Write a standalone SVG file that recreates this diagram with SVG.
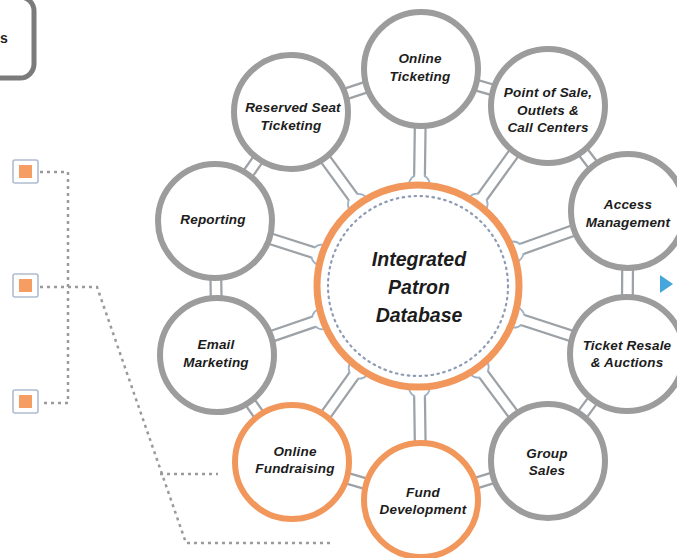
<svg xmlns="http://www.w3.org/2000/svg" xmlns:xlink="http://www.w3.org/1999/xlink" width="677" height="558" viewBox="0 0 677 558">
<style>
.lbl{font-family:"Liberation Sans",Arial,sans-serif;font-weight:bold;font-style:italic;font-size:13.5px;fill:#1c1c1c;text-anchor:middle;letter-spacing:0.2px}
.big{font-family:"Liberation Sans",Arial,sans-serif;font-weight:bold;font-style:italic;font-size:19.5px;fill:#1c1c1c;text-anchor:middle}
.nd{fill:#fff;stroke:#9c9c9c;stroke-width:6}
.nd-o{fill:#fff;stroke:#f2975c;stroke-width:6}
.br-o{fill:none;stroke:#9da2a7;stroke-width:13}
.br-i{fill:none;stroke:#fff;stroke-width:8.5}
.bulb{fill:#fff;stroke:#a0b1c3;stroke-width:1.8}
.dot{fill:none;stroke:#9a9a9a;stroke-width:2.5;stroke-dasharray:3 4}
.sqbox{fill:#fff;stroke:#aebcd0;stroke-width:1.6}
.sq{fill:#f59d62}
</style>
<defs>
<path id="bridges" d="M418 286L421 69M418 286L548 106M418 286L628 211M418 286L627 354M418 286L548 461M418 286L421 500M418 286L292 462M418 286L217 355M418 286L215 221M418 286L291 112M421 69L548 106M548 106L628 211M628 211L627 354M627 354L548 461M548 461L421 500M421 500L292 462M292 462L217 355M217 355L215 221M215 221L291 112M291 112L421 69"/>
</defs>

<!-- top-left cropped box -->
<g id="corner-box">
<rect x="-50" y="-3" width="84" height="81" rx="14" fill="#fff" stroke="#7b7b7b" stroke-width="5"/>
<text x="0" y="43" text-anchor="start" style="font-family:'Liberation Sans',Arial,sans-serif;font-weight:bold;font-size:14px;fill:#222">s</text>
</g>

<!-- left legend squares -->
<g id="sq-1"><rect x="13" y="160" width="25" height="23" rx="2" class="sqbox"/><rect x="19" y="165" width="13" height="13" class="sq"/></g>
<g id="sq-2"><rect x="13" y="274" width="25" height="23" rx="2" class="sqbox"/><rect x="19" y="279" width="13" height="13" class="sq"/></g>
<g id="sq-3"><rect x="13" y="390" width="25" height="23" rx="2" class="sqbox"/><rect x="19" y="395" width="13" height="13" class="sq"/></g>

<g id="dotted-lines">
<path class="dot" d="M40 172H68V403H40"/>
<path class="dot" d="M40 287H97L186 543H330"/>
<path class="dot" d="M160 474H218"/>
</g>

<g id="connectors">
<use href="#bridges" xlink:href="#bridges" class="br-o"/>
<circle class="bulb" cx="419.4" cy="185" r="10.5"/>
<circle class="bulb" cx="477.1" cy="204.1" r="10.5"/>
<circle class="bulb" cx="513.1" cy="252" r="10.5"/>
<circle class="bulb" cx="514" cy="317.2" r="10.5"/>
<circle class="bulb" cx="478.2" cy="367.1" r="10.5"/>
<circle class="bulb" cx="419.4" cy="387" r="10.5"/>
<circle class="bulb" cx="359.2" cy="368.1" r="10.5"/>
<circle class="bulb" cx="322.5" cy="318.8" r="10.5"/>
<circle class="bulb" cx="321.8" cy="255.2" r="10.5"/>
<circle class="bulb" cx="358.5" cy="204.4" r="10.5"/>
<use href="#bridges" xlink:href="#bridges" class="br-i"/>
<polygon points="660,275 673,284 660,293" fill="#45a6dc"/>
</g>

<g id="node-center">
<circle cx="418" cy="286" r="101" fill="#fff" stroke="#f2975c" stroke-width="7"/>
<circle cx="418" cy="286" r="90" fill="none" stroke="#8e9bb3" stroke-width="2.2" stroke-dasharray="1.5 4.5" stroke-linecap="round"/>
<text class="big" x="419" y="266">Integrated</text>
<text class="big" x="419" y="294">Patron</text>
<text class="big" x="419" y="322">Database</text>
</g>

<g id="node-online-ticketing"><circle cx="421" cy="69" r="57" class="nd"/><text class="lbl" x="420" y="63">Online</text><text class="lbl" x="420" y="81">Ticketing</text></g>
<g id="node-point-of-sale"><circle cx="548" cy="106" r="57" class="nd"/><text class="lbl" x="548" y="97">Point of Sale,</text><text class="lbl" x="548" y="115">Outlets &amp;</text><text class="lbl" x="548" y="132">Call Centers</text></g>
<g id="node-access"><circle cx="628" cy="211" r="57" class="nd"/><text class="lbl" x="628" y="209">Access</text><text class="lbl" x="628" y="227">Management</text></g>
<g id="node-ticket-resale"><circle cx="627" cy="354" r="57" class="nd"/><text class="lbl" x="627" y="350">Ticket Resale</text><text class="lbl" x="627" y="367">&amp; Auctions</text></g>
<g id="node-group-sales"><circle cx="548" cy="461" r="57" class="nd"/><text class="lbl" x="547" y="458">Group</text><text class="lbl" x="547" y="475">Sales</text></g>
<g id="node-fund-development"><circle cx="421" cy="500" r="57" class="nd-o"/><text class="lbl" x="423" y="497">Fund</text><text class="lbl" x="423" y="514">Development</text></g>
<g id="node-online-fundraising"><circle cx="292" cy="462" r="57" class="nd-o"/><text class="lbl" x="295" y="456">Online</text><text class="lbl" x="295" y="473">Fundraising</text></g>
<g id="node-email-marketing"><circle cx="217" cy="355" r="57" class="nd"/><text class="lbl" x="216" y="349">Email</text><text class="lbl" x="216" y="367">Marketing</text></g>
<g id="node-reporting"><circle cx="215" cy="221" r="57" class="nd"/><text class="lbl" x="213" y="224">Reporting</text></g>
<g id="node-reserved-seat"><circle cx="291" cy="112" r="57" class="nd"/><text class="lbl" x="293" y="112">Reserved Seat</text><text class="lbl" x="291" y="130">Ticketing</text></g>
</svg>
